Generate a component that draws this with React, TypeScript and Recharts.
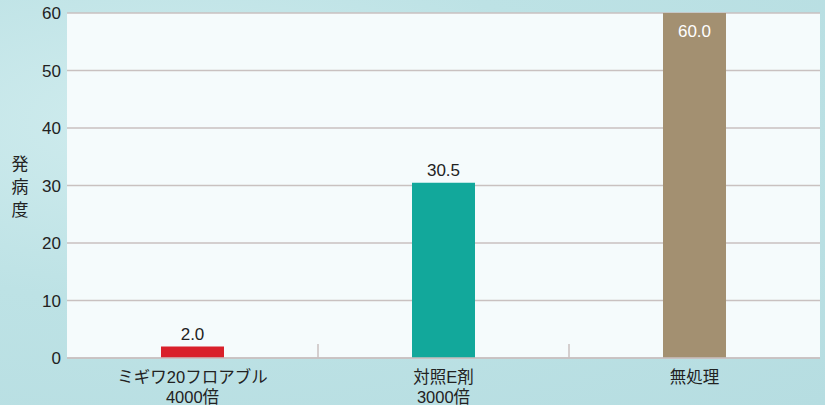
import React from "react";
import {
  BarChart,
  Bar,
  Cell,
  XAxis,
  YAxis,
  CartesianGrid,
  LabelList,
} from "recharts";

const categories = ["ミギワ20フロアブル\n4000倍", "対照E剤\n3000倍", "無処理"];
const values = [2.0, 30.5, 60.0];
const barColors = ["#d9202a", "#12a89b", "#a39071"];
const yTicks = [0, 10, 20, 30, 40, 50, 60];
const dividerTicks = [0.5, 1.5];

const FONT = "'Liberation Sans', 'Noto Sans CJK JP', sans-serif";

const data = categories.map((name, i) => ({ name, value: values[i], idx: i }));

function CategoryTick(props: any) {
  const { x, y, payload } = props;
  const lines = String(payload.value).split("\n");
  return (
    <text x={x} y={y} textAnchor="middle" fill="#222" fontSize={16.5} fontFamily={FONT}>
      {lines.map((l, i) => (
        <tspan key={i} x={x} dy={i === 0 ? 17 : 20}>
          {l}
        </tspan>
      ))}
    </text>
  );
}

function ValueLabel(props: any) {
  const { x, y, width, value } = props;
  const inside = value >= 60;
  const cx = x + width / 2;
  return (
    <text
      x={cx}
      y={inside ? y + 24 : y - 7}
      textAnchor="middle"
      fill={inside ? "#ffffff" : "#222"}
      fontSize={17}
      fontFamily={FONT}
    >
      {Number(value).toFixed(1)}
    </text>
  );
}

export default function App() {
  return (
    <div
      style={{
        position: "absolute",
        left: 0,
        top: 0,
        width: 825,
        height: 405,
        overflow: "hidden",
        background:
          "radial-gradient(ellipse at 20% 30%, #d0ecee 0%, #bde2e5 45%, #b6dde1 100%)",
      }}
    >
      <div
        style={{
          position: "absolute",
          left: 11,
          top: 153,
          width: 18,
          fontSize: 17,
          lineHeight: "23px",
          color: "#222",
          fontFamily: FONT,
          textAlign: "center",
        }}
      >
        <div>発</div>
        <div>病</div>
        <div>度</div>
      </div>
      <BarChart
        width={825}
        height={405}
        data={data}
        margin={{ top: 13, right: 5, left: 0, bottom: 0 }}
        style={{ position: "absolute", left: 0, top: 0 }}
      >
        <CartesianGrid
          vertical={false}
          stroke="#c9c1c0"
          strokeWidth={1.5}
          fill="#f5fbfc"
          fillOpacity={1}
        />
        <XAxis
          xAxisId="div"
          dataKey="idx"
          type="number"
          domain={[-0.5, 2.5]}
          allowDataOverflow
          ticks={dividerTicks}
          interval={0}
          mirror
          tickSize={14}
          tick={{ fontSize: 1, fill: "transparent" }}
          tickLine={{ stroke: "#c9c1c0", strokeWidth: 1.5 }}
          axisLine={false}
          height={1}
        />
        <XAxis
          dataKey="name"
          interval={0}
          tick={<CategoryTick />}
          tickLine={false}
          axisLine={{ stroke: "#c9c1c0", strokeWidth: 1.5 }}
          height={47}
        />
        <YAxis
          domain={[0, 60]}
          ticks={yTicks}
          width={67}
          tickLine={false}
          axisLine={false}
          tickSize={0}
          tickMargin={6}
          tick={{ fill: "#222", fontSize: 17, fontFamily: FONT }}
        />
        <Bar dataKey="value" barSize={63} isAnimationActive={false}>
          {data.map((d, i) => (
            <Cell key={d.name} fill={barColors[i]} />
          ))}
          <LabelList dataKey="value" content={<ValueLabel />} />
        </Bar>
      </BarChart>
    </div>
  );
}
